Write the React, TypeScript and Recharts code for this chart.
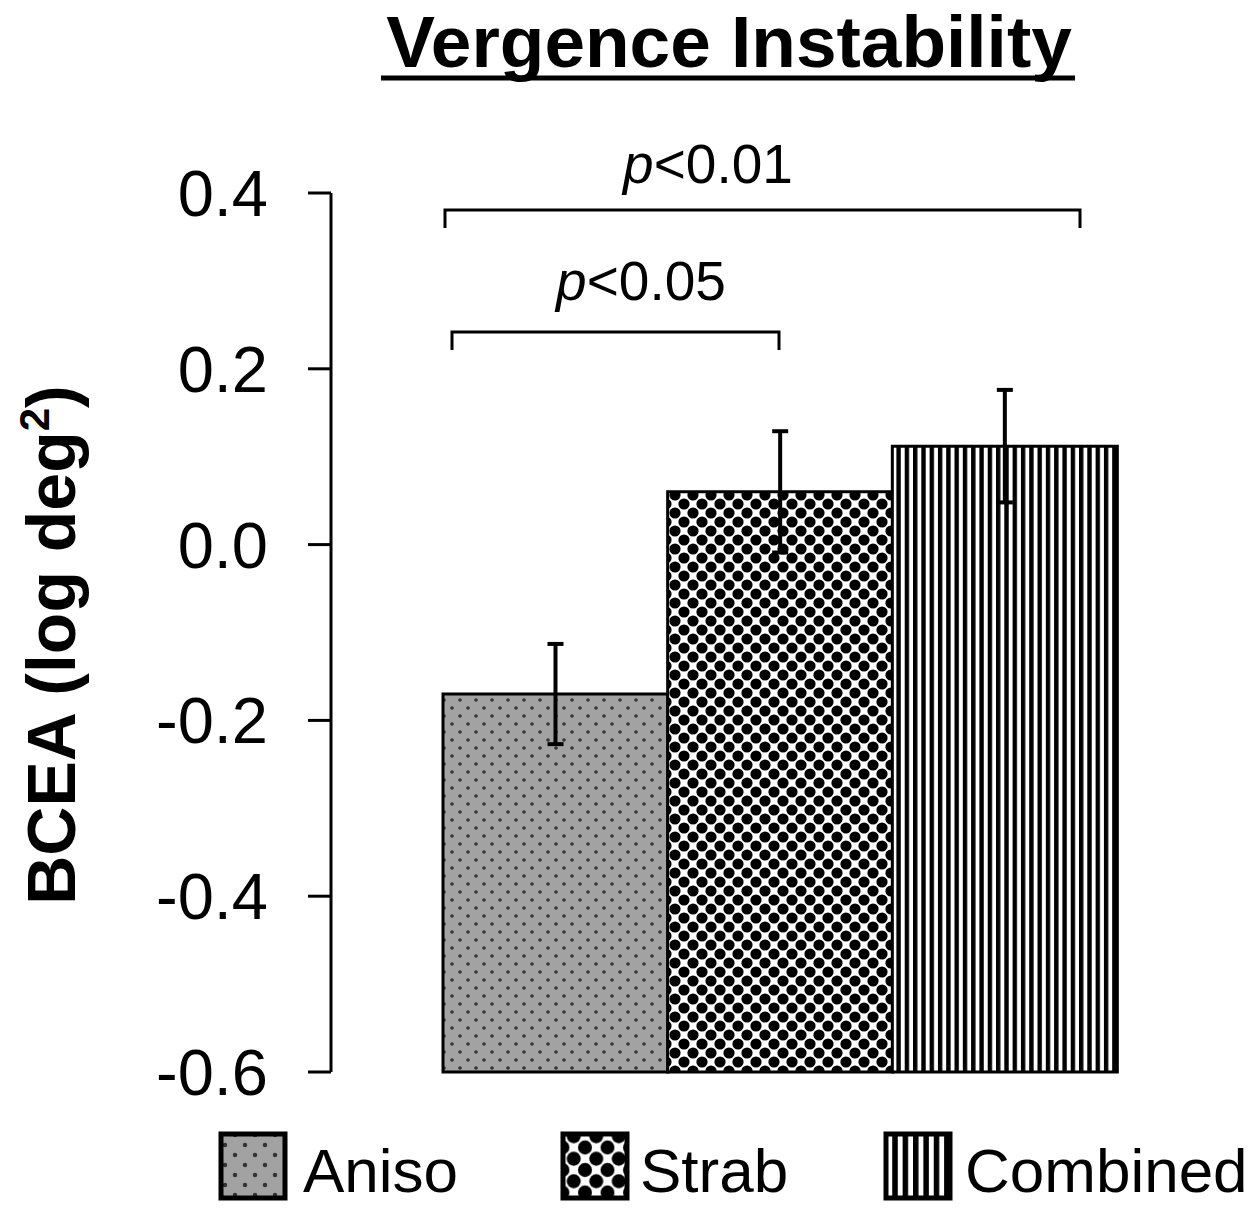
import React from 'react';
import { BarChart, Bar, XAxis, YAxis, ErrorBar, Cell } from 'recharts';

const groups = ['Aniso', 'Strab', 'Combined'];
const bceaMeans = [-0.17, 0.06, 0.112];
const bceaErrors = [0.057, 0.069, 0.064];
const yTicks = [-0.6, -0.4, -0.2, 0.0, 0.2, 0.4];
const sigLabels = ['<0.01', '<0.05'];

const Y_MIN = -0.6;
const Y_MAX = 0.4;
const FONT = '"Liberation Sans", Arial, Helvetica, sans-serif';

const data = groups.map((name, i) => ({ name, mean: bceaMeans[i], err: bceaErrors[i] }));
const fills = ['url(#pat-aniso)', 'url(#pat-strab)', 'url(#pat-combined)'];
const legendFills = ['url(#leg-aniso)', 'url(#leg-strab)', 'url(#leg-combined)'];
const legendSwatchX = [221, 563, 886];
const legendTextX = [303, 640, 965];

// one set of hatch patterns, scaled for the legend swatches
const patternSet = (prefix: string, scale: number) => {
  const t = scale === 1 ? undefined : `scale(${scale})`;
  return (
    <>
      <pattern id={`${prefix}-aniso`} width={16} height={16} patternUnits="userSpaceOnUse" patternTransform={t}>
        <rect width={16} height={16} fill="#a2a2a2" />
        <circle cx={4} cy={4} r={1.8} fill="#333" />
        <circle cx={12} cy={12} r={1.8} fill="#333" />
      </pattern>
      <pattern id={`${prefix}-strab`} width={18} height={18} patternUnits="userSpaceOnUse" patternTransform={t}>
        <rect width={18} height={18} fill="#fff" />
        {[[0, 0], [18, 0], [0, 18], [18, 18], [9, 9]].map(([cx, cy], i) => (
          <circle key={i} cx={cx} cy={cy} r={5.6} fill="#000" />
        ))}
      </pattern>
      <pattern id={`${prefix}-combined`} width={8.3} height={10} patternUnits="userSpaceOnUse" patternTransform={t}>
        <rect width={8.3} height={10} fill="#fff" />
        <rect width={4.4} height={10} fill="#000" />
      </pattern>
    </>
  );
};

const Patterns = () => (
  <svg width={0} height={0} style={{ position: 'absolute' }}>
    <defs>
      {patternSet('pat', 1)}
      {patternSet('leg', 1.25)}
    </defs>
  </svg>
);

const Overlay = () => (
  <svg width={1260} height={1216} style={{ position: 'absolute', left: 0, top: 0, pointerEvents: 'none' }} fontFamily={FONT}>
    {/* title */}
    <text x={729} y={67} textAnchor="middle" fontSize={73} fontWeight="bold" fill="#000">Vergence Instability</text>
    <line x1={381} x2={1075} y1={78} y2={78} stroke="#000" strokeWidth={5} />

    {/* y axis title */}
    <text transform="translate(75, 645) rotate(-90)" textAnchor="middle" fontSize={68} fontWeight="bold" fill="#000">
      BCEA (log deg<tspan dy={-26} fontSize={42}>2</tspan><tspan dy={26}>)</tspan>
    </text>

    {/* significance brackets */}
    <path d="M445,228 L445,210 L1080,210 L1080,228" fill="none" stroke="#000" strokeWidth={3} />
    <text x={708} y={183} textAnchor="middle" fontSize={55} fill="#000">
      <tspan fontStyle="italic">p</tspan>{sigLabels[0]}
    </text>
    <path d="M452,350 L452,332 L779,332 L779,350" fill="none" stroke="#000" strokeWidth={3} />
    <text x={641} y={300} textAnchor="middle" fontSize={55} fill="#000">
      <tspan fontStyle="italic">p</tspan>{sigLabels[1]}
    </text>

    {/* legend */}
    {groups.map((g, i) => (
      <g key={g}>
        <rect x={legendSwatchX[i]} y={1134} width={64} height={64} fill={legendFills[i]} stroke="#000" strokeWidth={5} />
        <text x={legendTextX[i]} y={1192} fontSize={62} fill="#000">{g}</text>
      </g>
    ))}
  </svg>
);

export default function App() {
  return (
    <div style={{ position: 'absolute', left: 0, top: 0, width: 1260, height: 1216, background: '#fff' }}>
      <Patterns />
      <BarChart
        width={1260}
        height={1216}
        data={data}
        margin={{ top: 193, right: 32, bottom: 144, left: 131 }}
        barCategoryGap={0}
      >
        <XAxis
          dataKey="name"
          height={0}
          tick={false}
          tickLine={false}
          axisLine={{ stroke: '#000', strokeWidth: 3 }}
          padding={{ left: 112, right: 111 }}
        />
        <YAxis
          type="number"
          width={200}
          domain={[Y_MIN, Y_MAX]}
          ticks={yTicks}
          interval={0}
          tickFormatter={(v: number) => v.toFixed(1)}
          tickSize={23}
          tickMargin={40}
          tick={{ fill: '#000', fontSize: 65, fontFamily: FONT }}
          tickLine={{ stroke: '#000', strokeWidth: 3 }}
          axisLine={{ stroke: '#000', strokeWidth: 3 }}
        />
        <Bar
          dataKey={(d: { mean: number }) => [Y_MIN, d.mean]}
          stroke="#000"
          strokeWidth={3}
          isAnimationActive={false}
        >
          {data.map((d, i) => (
            <Cell key={d.name} fill={fills[i]} />
          ))}
          <ErrorBar dataKey="err" width={8} stroke="#000" strokeWidth={4} direction="y" />
        </Bar>
      </BarChart>
      <Overlay />
    </div>
  );
}
